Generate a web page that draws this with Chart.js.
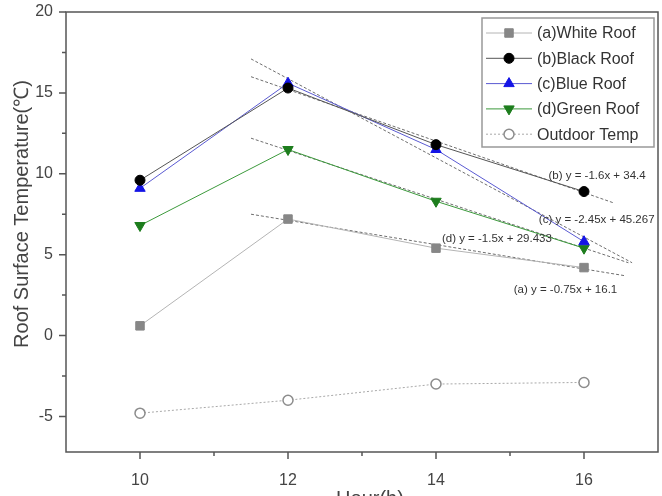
<!DOCTYPE html>
<html>
<head>
<meta charset="utf-8">
<script src="https://cdn.jsdelivr.net/npm/chart.js@4.4.1/dist/chart.umd.min.js"></script>
<style>
  html, body { margin: 0; padding: 0; background: #fff; }
  #wrap { width: 662px; height: 496px; }
</style>
</head>
<body>
<div id="wrap"><canvas id="myChart" width="662" height="496"></canvas></div>
<script>
// data
const hours = [10, 12, 14, 16];
const whiteRoof = [0.6, 7.2, 5.4, 4.2];
const blackRoof = [9.6, 15.3, 11.8, 8.9];
const blueRoof = [9.1, 15.6, 11.5, 5.8];
const greenRoof = [6.8, 11.5, 8.3, 5.4];
const outdoorTemp = [-4.8, -4.0, -3.0, -2.9];

// linear fit lines (start / end points as drawn)
const trendA = [[11.5, 7.5], [16.55, 3.7]];
const trendB = [[11.5, 16.0], [16.4, 8.2]];
const trendC = [[11.5, 17.1], [16.65, 4.5]];
const trendD = [[11.5, 12.2], [16.6, 4.5]];

const seriesNames = ['(a)White Roof', '(b)Black Roof', '(c)Blue Roof', '(d)Green Roof', 'Outdoor Temp'];
const xTicks = [10, 12, 14, 16];
const xMinor = [11, 13, 15];
const yTicks = [-5, 0, 5, 10, 15, 20];
const yMinor = [-2.5, 2.5, 7.5, 12.5, 17.5];

const equations = [
    { text: '(b) y = -1.6x + 34.4', x: 15.52, y: 9.9 },
    { text: '(c) y = -2.45x + 45.267', x: 15.39, y: 7.15 },
    { text: '(d) y = -1.5x + 29.433', x: 14.08, y: 5.95 },
    { text: '(a) y = -0.75x + 16.1', x: 15.05, y: 2.85 }
];

const pts = (ys) => hours.map((h, i) => ({ x: h, y: ys[i] }));
const line = (pp) => pp.map(p => ({ x: p[0], y: p[1] }));

const FONT = '"Liberation Sans", Arial, sans-serif';

function trendSet(pp) {
    return {
        data: line(pp), borderColor: '#6e6e6e', borderWidth: 1, borderDash: [3, 2],
        pointRadius: 0, fill: false
    };
}

const datasets = [
    { label: seriesNames[0], data: pts(whiteRoof), borderColor: '#b4b4b4', borderWidth: 1,
      pointStyle: 'rect', pointRadius: 6, pointBackgroundColor: '#878787', pointBorderColor: '#878787' },
    { label: seriesNames[1], data: pts(blackRoof), borderColor: '#555555', borderWidth: 1,
      pointStyle: 'circle', pointRadius: 5, pointBackgroundColor: '#000', pointBorderColor: '#000' },
    { label: seriesNames[2], data: pts(blueRoof), borderColor: '#5a5ad2', borderWidth: 1,
      pointStyle: 'triangle', pointRadius: 6, pointBackgroundColor: '#1414e6', pointBorderColor: '#1414e6' },
    { label: seriesNames[3], data: pts(greenRoof), borderColor: '#3c9a3c', borderWidth: 1,
      pointStyle: 'triangle', pointRotation: 180, pointRadius: 6, pointBackgroundColor: '#1d7d1d', pointBorderColor: '#1d7d1d' },
    { label: seriesNames[4], data: pts(outdoorTemp), borderColor: '#a8a8a8', borderWidth: 1, borderDash: [2, 2],
      pointStyle: 'circle', pointRadius: 5, pointBackgroundColor: '#fff', pointBorderColor: '#8c8c8c', pointBorderWidth: 1.5 },
    trendSet(trendA), trendSet(trendB), trendSet(trendC), trendSet(trendD)
];

// frame, ticks, titles, fit equations and the boxed legend
const overlay = {
    id: 'overlay',
    afterDraw(chart) {
        const ctx = chart.ctx;
        const a = chart.chartArea;
        const xs = chart.scales.x, ys = chart.scales.y;
        ctx.save();

        ctx.strokeStyle = '#555';
        ctx.lineWidth = 1.5;
        ctx.strokeRect(a.left, a.top, a.right - a.left, a.bottom - a.top);

        ctx.beginPath();
        xTicks.forEach(v => { const p = xs.getPixelForValue(v); ctx.moveTo(p, a.bottom); ctx.lineTo(p, a.bottom + 7); });
        xMinor.forEach(v => { const p = xs.getPixelForValue(v); ctx.moveTo(p, a.bottom); ctx.lineTo(p, a.bottom + 4); });
        yTicks.forEach(v => { const p = ys.getPixelForValue(v); ctx.moveTo(a.left, p); ctx.lineTo(a.left - 7, p); });
        yMinor.forEach(v => { const p = ys.getPixelForValue(v); ctx.moveTo(a.left, p); ctx.lineTo(a.left - 4, p); });
        ctx.stroke();

        ctx.fillStyle = '#444';
        ctx.font = '20px ' + FONT;
        ctx.textAlign = 'center';
        ctx.textBaseline = 'middle';
        ctx.save();
        ctx.translate(22, 214);
        ctx.rotate(-Math.PI / 2);
        ctx.fillText('Roof Surface Temperature(\u2103)', 0, 0);
        ctx.restore();
        ctx.textBaseline = 'top';
        ctx.fillText('Hour(h)', 370, 489);

        ctx.font = '11.5px ' + FONT;
        ctx.fillStyle = '#333';
        ctx.textAlign = 'left';
        ctx.textBaseline = 'middle';
        equations.forEach(e => ctx.fillText(e.text, xs.getPixelForValue(e.x), ys.getPixelForValue(e.y)));

        const lx = 482, ly = 18, lw = 172, lh = 129;
        ctx.fillStyle = '#fff';
        ctx.fillRect(lx, ly, lw, lh);
        ctx.strokeStyle = '#999';
        ctx.lineWidth = 1.5;
        ctx.strokeRect(lx, ly, lw, lh);
        ctx.font = '16px ' + FONT;
        ctx.textBaseline = 'middle';
        for (let i = 0; i < 5; i++) {
            const ds = chart.data.datasets[i];
            const y = ly + 15 + i * 25.3;
            ctx.save();
            ctx.strokeStyle = ds.borderColor;
            ctx.lineWidth = 1;
            ctx.setLineDash(ds.borderDash || []);
            ctx.beginPath();
            ctx.moveTo(lx + 4, y);
            ctx.lineTo(lx + 50, y);
            ctx.stroke();
            ctx.setLineDash([]);
            ctx.fillStyle = ds.pointBackgroundColor;
            ctx.strokeStyle = ds.pointBorderColor;
            ctx.lineWidth = ds.pointBorderWidth || 1;
            Chart.helpers.drawPoint(ctx, {
                pointStyle: ds.pointStyle, radius: ds.pointRadius,
                rotation: ds.pointRotation || 0, borderWidth: ds.pointBorderWidth || 1
            }, lx + 27, y);
            ctx.restore();
            ctx.fillStyle = '#333';
            ctx.fillText(ds.label, lx + 55, y + 1);
        }
        ctx.restore();
    }
};

// push the plot's right edge out to where the reference frame is
const rightEdge = {
    id: 'rightEdge',
    afterLayout(chart) {
        const a = chart.chartArea;
        const want = 658;
        if (a.right !== want) {
            a.right = want;
            a.width = a.right - a.left;
            const xs = chart.scales.x;
            xs.right = want;
            xs.width = xs.right - xs.left;
            xs.configure();
        }
    }
};

new Chart(document.getElementById('myChart').getContext('2d'), {
    type: 'line',
    data: { datasets: datasets },
    options: {
        responsive: false,
        animation: false,
        layout: { padding: { top: 12, right: 0, bottom: 0, left: 0 } },
        plugins: { legend: { display: false }, tooltip: { enabled: false } },
        scales: {
            x: {
                type: 'linear', min: 9, max: 17,
                afterBuildTicks: s => { s.ticks = xTicks.map(v => ({ value: v })); },
                afterFit: s => { s.height = 44; s.paddingLeft = 0; s.paddingRight = 0; },
                grid: { display: false, drawTicks: false },
                border: { display: false },
                ticks: { padding: 19, color: '#444', font: { size: 16, family: FONT } }
            },
            y: {
                min: -7.2, max: 20,
                afterBuildTicks: s => { s.ticks = yTicks.map(v => ({ value: v })); },
                afterFit: s => { s.width = 66; s.paddingTop = 0; s.paddingBottom = 0; },
                grid: { display: false, drawTicks: false },
                border: { display: false },
                ticks: { padding: 13, color: '#444', font: { size: 16, family: FONT } }
            }
        }
    },
    plugins: [overlay, rightEdge]
});
</script>
</body>
</html>
